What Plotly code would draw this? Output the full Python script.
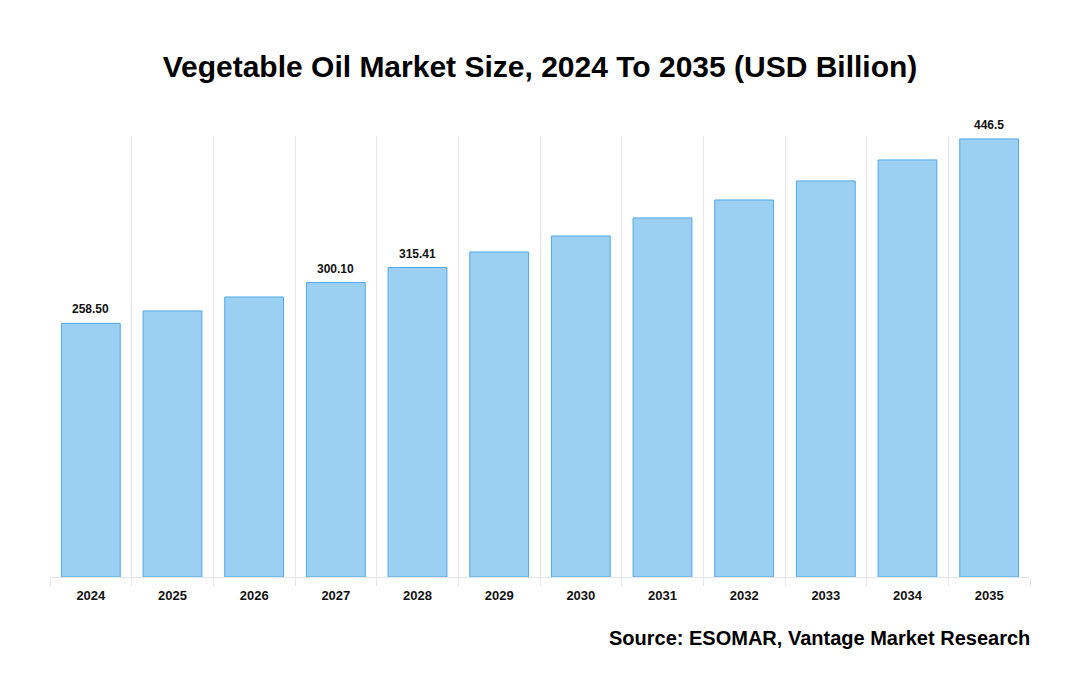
import plotly.graph_objects as go

years = ["2024", "2025", "2026", "2027", "2028", "2029", "2030", "2031", "2032", "2033", "2034", "2035"]
values = [258.50, 271.2, 285.4, 300.10, 315.41, 331.3, 347.6, 366.0, 384.3, 403.7, 425.1, 446.5]
labels = ["258.50", "", "", "300.10", "315.41", "", "", "", "", "", "", "446.5"]

FONT = "Liberation Sans, Arial, sans-serif"

fig = go.Figure(
    go.Bar(
        x=years,
        y=values,
        marker=dict(color="#9BD0F3", line=dict(color="#4FA8E6", width=1)),
        width=0.72,
        hoverinfo="x+y",
    )
)

annotations = [
    dict(
        text="<b>Source: ESOMAR, Vantage Market Research</b>",
        xref="paper",
        yref="paper",
        x=1.002,
        y=-0.138,
        xanchor="right",
        yanchor="middle",
        showarrow=False,
        font=dict(family=FONT, size=20, color="#000000"),
    )
]
for i, (v, lab) in enumerate(zip(values, labels)):
    if lab:
        annotations.append(
            dict(
                text=f"<b>{lab}</b>",
                x=i,
                y=v,
                xref="x",
                yref="y",
                xanchor="center",
                yanchor="bottom",
                yshift=5,
                showarrow=False,
                font=dict(family=FONT, size=12, color="#111111"),
            )
        )

fig.update_layout(
    width=1080,
    height=700,
    paper_bgcolor="white",
    plot_bgcolor="white",
    margin=dict(l=42, r=58, t=128, b=131),
    title=dict(
        text="<b>Vegetable Oil Market Size, 2024 To 2035 (USD Billion)</b>",
        x=(540 - 8) / 1080,
        xanchor="center",
        y=1 - 58 / 700,
        yanchor="middle",
        font=dict(family=FONT, size=30, color="#000000"),
    ),
    showlegend=False,
    font=dict(family=FONT),
    annotations=annotations,
)

fig.update_xaxes(
    type="category",
    tickson="boundaries",
    showgrid=True,
    gridcolor="#E6E6E6",
    gridwidth=1,
    ticks="outside",
    ticklen=8,
    tickcolor="#E6E6E6",
    showline=True,
    linecolor="#E6E6E6",
    tickfont=dict(family=FONT, size=13, color="#111111"),
    tickprefix="<b>",
    ticksuffix="</b>",
    ticklabelstandoff=6,
    range=[-0.5, 11.5],
)

fig.update_yaxes(
    range=[0, 449.5],
    showgrid=False,
    showticklabels=False,
    zeroline=False,
    showline=False,
)

fig.write_html("out.html")
